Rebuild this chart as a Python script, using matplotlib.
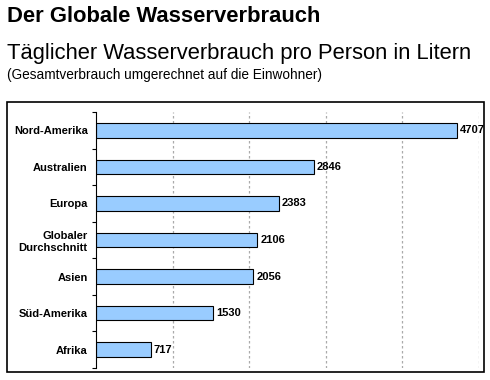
import matplotlib
matplotlib.use("Agg")
import matplotlib.pyplot as plt
from matplotlib.patches import Rectangle

plt.rcParams['font.family'] = ['Liberation Sans', 'DejaVu Sans']

regions = ["Nord-Amerika", "Australien", "Europa", "Globaler\nDurchschnitt",
           "Asien", "Süd-Amerika", "Afrika"]
liters = [4707, 2846, 2383, 2106, 2056, 1530, 717]
x_ticks = [1000, 2000, 3000, 4000, 5000]

fig = plt.figure(figsize=(4.9, 3.8), dpi=100)

fig.text(7 / 490, 1 - 16 / 380, "Der Globale Wasserverbrauch",
         fontsize=15.8, fontweight="bold", va="center", ha="left")
fig.text(7 / 490, 1 - 53 / 380, "Täglicher Wasserverbrauch pro Person in Litern",
         fontsize=15.8, va="center", ha="left")
fig.text(7 / 490, 1 - 75 / 380, "(Gesamtverbrauch umgerechnet auf die Einwohner)",
         fontsize=9.8, va="center", ha="left")

# outer frame around chart
fig.patches.append(Rectangle((7 / 490, 1 - 372 / 380), 477 / 490, 270 / 380,
                             transform=fig.transFigure, fill=False,
                             edgecolor="black", linewidth=1.2))

ax = fig.add_axes([96 / 490, 1 - 368 / 380, 383 / 490, 256 / 380])

pos = list(range(len(regions)))
ax.barh(pos, liters, height=0.4, color="#99ccff", edgecolor="black", linewidth=0.8)
for p, v in zip(pos, liters):
    ax.text(v + 40, p, str(v), va="center", ha="left", fontsize=8, fontweight="bold")

ax.set_xlim(0, 5000)
ax.set_ylim(len(regions) - 0.5, -0.5)
ax.set_xticks(x_ticks)
ax.xaxis.grid(True, linestyle=(0, (2, 2)), color="#aaaaaa", linewidth=0.9)
ax.set_axisbelow(True)
ax.tick_params(axis="x", length=0, labelbottom=False)

ax.set_yticks(pos)
ax.set_yticklabels(regions, fontsize=8, fontweight="bold")
ax.tick_params(axis="y", which="major", length=0, pad=6)
ax.set_yticks([p + 0.5 for p in [-1] + pos], minor=True)
ax.tick_params(axis="y", which="minor", length=3, direction="out", width=0.8)

for s in ["top", "right", "bottom"]:
    ax.spines[s].set_visible(False)
ax.spines["left"].set_linewidth(0.8)

fig.savefig("out.png", dpi=100)
